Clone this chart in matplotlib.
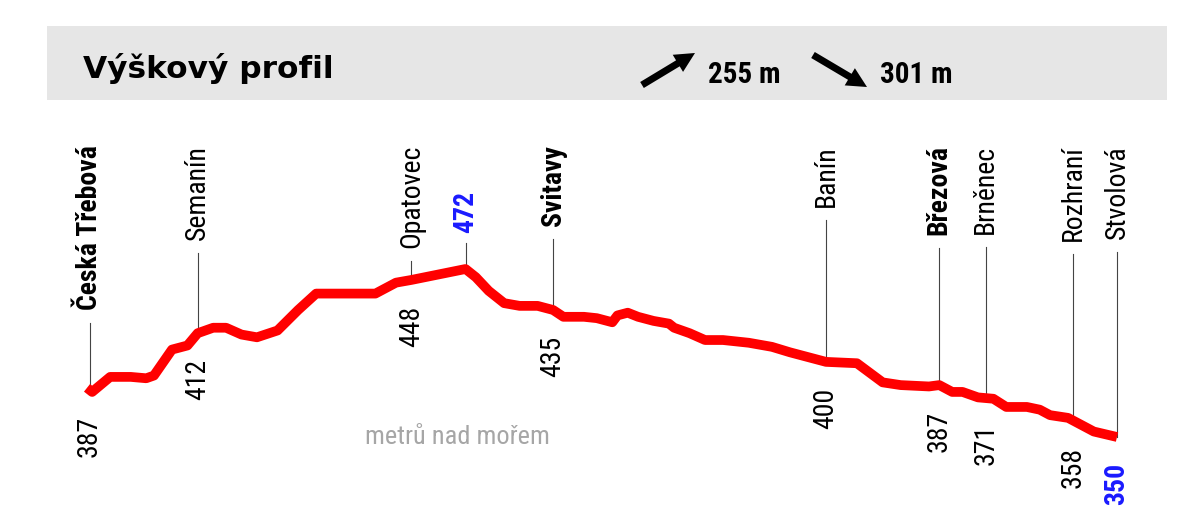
import numpy as np
import matplotlib
matplotlib.use("Agg")
import matplotlib.pyplot as plt
from matplotlib import font_manager, transforms
from matplotlib.patches import FancyArrow

# profile trace (km from start, metres above sea level)
dist = [0.0, 0.2, 0.9, 1.7, 2.3, 2.6, 3.3, 3.9, 4.3, 4.9, 5.4, 6.0, 6.6, 7.4, 8.2, 8.9,
        11.2, 12.0, 12.6, 14.7, 15.1, 15.6, 16.2, 16.8, 17.5, 18.1, 18.5, 19.3, 19.8,
        20.4, 20.6, 21.0, 21.4, 22.0, 22.6, 22.8, 23.4, 24.0, 24.7, 25.7, 26.6, 27.3,
        28.1, 28.7, 29.9, 30.4, 30.9, 31.6, 32.7, 33.1, 33.6, 34.0, 34.6, 35.2, 35.7,
        36.5, 37.0, 37.4, 38.1, 38.3, 39.1, 40.0]
elev = [386, 383, 394, 394, 393, 395, 414, 417, 426, 430, 430, 425, 423, 428, 443, 455,
        455, 463, 465, 473, 467, 457, 448, 446, 446, 443, 438, 438, 437,
        434, 439, 441, 438, 435, 433, 430, 426, 421, 421, 419, 416, 412,
        408, 405, 404, 397, 390, 388, 387, 388, 383, 383, 379, 378, 372,
        372, 370, 366, 364, 362, 354, 350]

# places along the route
place_names = ['Česká Třebová', 'Semanín', 'Opatovec', '', 'Svitavy', 'Banín',
               'Březová', 'Brněnec', 'Rozhraní', 'Stvolová']
place_km = [0.1, 4.3, 12.6, 14.7, 18.1, 28.7, 33.1, 34.9, 38.3, 40.0]
place_alt = [387, 412, 448, 472, 435, 400, 387, 371, 358, 350]
place_bold = [True, False, False, False, True, False, True, False, False, False]

climb_up = 255
climb_down = 301

W, H = 1200, 527
RED = '#ff0000'
BLUE = '#1a1aff'


def pick_condensed():
    fl = font_manager.fontManager.ttflist
    prefs = [('Liberation Sans Narrow', None), ('Roboto Condensed', None),
             ('Open Sans Condensed', None), ('Noto Sans', 'condensed'),
             ('DejaVu Sans', 'condensed'), ('Open Sans', 'condensed'),
             ('Roboto', 'condensed')]
    for name, st in prefs:
        for f in fl:
            if f.name == name and (st is None or f.stretch == st):
                return name, (st or 'normal')
    return 'Liberation Sans', 'normal'


COND, STRETCH = pick_condensed()
cfont = dict(family=COND, stretch=STRETCH)

fig = plt.figure(figsize=(W / 100, H / 100), dpi=100)

# header band
hx = fig.add_axes([47 / W, (H - 100) / H, 1120 / W, 74 / H])
hx.set_xlim(47, 1167)
hx.set_ylim(100, 26)
hx.set_facecolor('#e6e6e6')
hx.set_xticks([])
hx.set_yticks([])
for s in hx.spines.values():
    s.set_visible(False)
hx.text(83, 78, 'Výškový profil', fontsize=22.5, fontweight='heavy',
        family='DejaVu Sans', va='baseline')
hx.add_patch(FancyArrow(642, 85, 53, -32, width=7, head_width=20, head_length=20,
                        length_includes_head=True, color='black', lw=0))
hx.add_patch(FancyArrow(813, 55, 54, 32, width=7, head_width=20, head_length=20,
                        length_includes_head=True, color='black', lw=0))
hx.text(708, 83, f'{climb_up} m', fontsize=21, fontweight='bold', va='baseline', **cfont)
hx.text(880, 83, f'{climb_down} m', fontsize=21, fontweight='bold', va='baseline', **cfont)

# profile
ax = fig.add_axes([87 / W, (H - 437) / H, 1030 / W, 168 / H])
ax.set_xlim(dist[0], dist[-1])
ax.set_ylim(min(elev), max(elev))
ax.axis('off')
ax.plot(dist, elev, color=RED, lw=7, solid_joinstyle='round',
        solid_capstyle='butt', clip_on=False, zorder=3)

blend = transforms.blended_transform_factory(ax.transData, fig.transFigure)
name_top = 1 - 145 / H

tops = []  # (text artist, km, y on line, gap px)
for i, name in enumerate(place_names):
    km = place_km[i]
    yl = np.interp(km, dist, elev)
    wt = 'bold' if place_bold[i] else 'normal'
    is_peak = place_alt[i] == max(place_alt)
    is_end = i == len(place_names) - 1
    if name:
        t = ax.text(km, name_top, name, transform=blend, rotation=90, ha='center',
                    va='top', fontsize=20, fontweight=wt, clip_on=False, **cfont)
        tops.append((t, km, yl, 13))
    if is_peak:
        t = ax.annotate(str(place_alt[i]), (km, yl), xytext=(0, 36),
                        textcoords='offset pixels', rotation=90, ha='center',
                        va='bottom', fontsize=20, fontweight='bold', color=BLUE,
                        annotation_clip=False, **cfont)
        tops.append((t, km, yl, 10))
    else:
        ax.annotate(str(place_alt[i]), (km, yl), xytext=(0, -26),
                    textcoords='offset pixels', rotation=90, ha='center', va='top',
                    fontsize=20, fontweight='bold' if is_end else 'normal',
                    color=BLUE if is_end else 'black', annotation_clip=False, **cfont)

fig.text(457 / W, 1 - 437 / H, 'metrů nad mořem', ha='center', va='center',
         color='#a6a6a6', fontsize=19, **cfont)

# leader lines from the line up to each label
fig.canvas.draw()
r = fig.canvas.get_renderer()
inv = ax.transData.inverted()
for t, km, yl, gap in tops:
    bb = t.get_window_extent(r)
    px, py = ax.transData.transform((km, yl))
    _, ytop = inv.transform((px, bb.y0 - gap))
    ax.plot([km, km], [yl, ytop], color='#444444', lw=0.8, clip_on=False, zorder=2)

fig.savefig('out.png', dpi=100)
